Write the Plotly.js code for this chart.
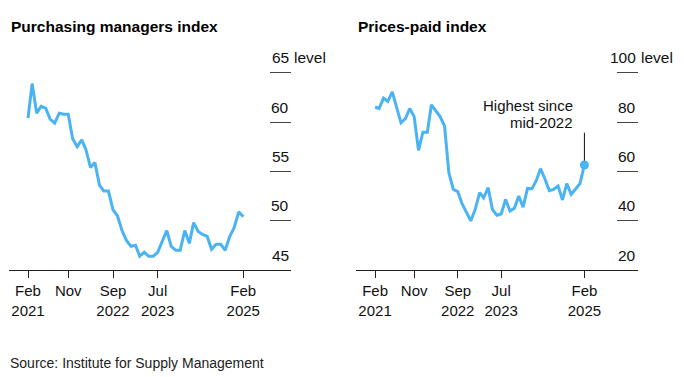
<!DOCTYPE html>
<html>
<head>
<meta charset="utf-8">
<script src="https://cdn.plot.ly/plotly-3.0.1.min.js"></script>
<style>html,body{margin:0;padding:0;background:#fff;}#chart{width:684px;height:377px;}</style>
</head>
<body>
<div id="chart"></div>
<script>
const months = ['2021-02','2021-03','2021-04','2021-05','2021-06','2021-07','2021-08','2021-09','2021-10','2021-11','2021-12',
  '2022-01','2022-02','2022-03','2022-04','2022-05','2022-06','2022-07','2022-08','2022-09','2022-10','2022-11','2022-12',
  '2023-01','2023-02','2023-03','2023-04','2023-05','2023-06','2023-07','2023-08','2023-09','2023-10','2023-11','2023-12',
  '2024-01','2024-02','2024-03','2024-04','2024-05','2024-06','2024-07','2024-08','2024-09','2024-10','2024-11','2024-12',
  '2025-01','2025-02'];
const pmi = [60.4,63.9,60.9,61.6,61.4,60.3,59.9,60.9,60.8,60.8,58.3,
  57.5,58.2,57.2,55.4,55.9,53.6,53.0,53.0,51.1,50.5,49.0,48.0,
  47.4,47.5,46.4,46.8,46.4,46.4,46.8,47.9,49.0,47.4,47.0,47.0,
  49.0,47.7,49.8,48.9,48.6,48.4,47.1,47.6,47.6,47.0,48.4,49.3,
  50.9,50.4];
const prices = [86.1,85.5,89.7,88.4,92.2,85.8,79.7,81.4,85.5,82.2,68.5,
  75.9,75.9,87.0,84.7,82.2,78.4,59.5,52.7,51.8,46.9,43.0,39.9,
  44.6,51.4,49.3,53.4,44.6,42.2,42.7,48.6,43.9,45.0,50.0,45.5,
  53.1,53.0,56.1,61.1,57.0,52.2,52.7,54.1,48.4,55.0,50.7,52.7,
  55.0,62.6];
const xTickVals = ['2021-02-01','2021-11-01','2022-09-01','2023-07-01','2025-02-01'];
const xTickText = ['Feb<br>2021','Nov','Sep<br>2022','Jul<br>2023','Feb<br>2025'];
const pmiTicks = [45,50,55,60,65];
const priceTicks = [20,40,60,80,100];
const titles = ['Purchasing managers index','Prices-paid index'];
const unitLabel = 'level';
const noteLines = ['Highest since','mid-2022'];
const source = 'Source: Institute for Supply Management';

const BLUE = '#4ab3f4';
const FONT = 'Liberation Sans, Arial, sans-serif';

const traces = [
  {x: months, y: pmi, xaxis:'x', yaxis:'y', type:'scatter', mode:'lines',
   line:{color:BLUE, width:3}, hoverinfo:'skip'},
  {x: months, y: prices, xaxis:'x2', yaxis:'y2', type:'scatter', mode:'lines',
   line:{color:BLUE, width:3}, hoverinfo:'skip'},
  {x: [months[months.length-1]], y: [prices[prices.length-1]], xaxis:'x2', yaxis:'y2',
   type:'scatter', mode:'markers', marker:{color:BLUE, size:9}, hoverinfo:'skip'}
];

function xax(domain, range, anchor){
  return {domain: domain, range: range, type:'date', anchor: anchor,
    showline:true, linecolor:'#222', linewidth:1, ticks:'outside', ticklen:7, tickcolor:'#222',
    tickvals:xTickVals, ticktext:xTickText, tickfont:{family:FONT, size:15, color:'#111'},
    showgrid:false, zeroline:false, fixedrange:true};
}
function yax(range, tv, anchor){
  return {domain:[0,1], range:range, anchor:anchor, side:'right', ticks:'inside', ticklen:21,
    tickcolor:'#444', tickwidth:1, tickvals:tv, showticklabels:false, showgrid:false,
    zeroline:false, showline:false, fixedrange:true};
}

const ann = [];
function addTickLabels(tv, xr, yr){
  tv.forEach((v,i)=>{
    ann.push({xref:xr+' domain', x:1, yref:yr, y:v, xanchor:'right', yanchor:'middle', yshift:15,
      text:String(v), showarrow:false, font:{family:FONT, size:15.5, color:'#111'}});
    if(i===tv.length-1){
      ann.push({xref:xr+' domain', x:1, yref:yr, y:v, xanchor:'left', yanchor:'middle', yshift:15, xshift:1,
        text:unitLabel, showarrow:false, font:{family:FONT, size:15.5, color:'#111'}});
    }
  });
}
addTickLabels(pmiTicks, 'x', 'y');
addTickLabels(priceTicks, 'x2', 'y2');

ann.push({xref:'x domain', x:0, yref:'paper', y:1.12, xanchor:'left', yanchor:'middle',
  text:'<b>'+titles[0]+'</b>', showarrow:false, font:{family:FONT, size:15.5, color:'#000'}});
ann.push({xref:'x2 domain', x:0, yref:'paper', y:1.12, xanchor:'left', yanchor:'middle',
  text:'<b>'+titles[1]+'</b>', showarrow:false, font:{family:FONT, size:15.5, color:'#000'}});
ann.push({xref:'paper', x:0.0117, yref:'paper', y:-0.43, xanchor:'left', yanchor:'middle',
  text:source, showarrow:false, font:{family:FONT, size:14, color:'#222'}});

const lastX = months[months.length-1];
const leaderTop = 75.7;
ann.push({xref:'x2', x:lastX, yref:'y2', y:leaderTop, xanchor:'right', yanchor:'bottom', xshift:-9, yshift:0,
  text:noteLines[1], showarrow:false, font:{family:FONT, size:15, color:'#111'}});
ann.push({xref:'x2', x:lastX, yref:'y2', y:leaderTop, xanchor:'right', yanchor:'bottom', xshift:-9, yshift:16.5,
  text:noteLines[0], showarrow:false, font:{family:FONT, size:15, color:'#111'}});

const layout = {
  width:684, height:377, margin:{l:0, r:0, t:53, b:107}, showlegend:false,
  paper_bgcolor:'#fff', plot_bgcolor:'#fff',
  xaxis: xax([9/684, 291/684], ['2020-09-25','2025-12-22'], 'y'),
  yaxis: yax([45,67], pmiTicks, 'x'),
  xaxis2: xax([356/684, 638/684], ['2020-09-21','2026-02-10'], 'y2'),
  yaxis2: yax([20,108], priceTicks, 'x2'),
  annotations: ann,
  shapes: [{type:'line', xref:'x2', yref:'y2', x0:lastX, x1:lastX, y0:prices[prices.length-1], y1:leaderTop,
    line:{color:'#111', width:1}, layer:'below'}]
};
Plotly.newPlot('chart', traces, layout, {displayModeBar:false, staticPlot:true});
</script>
</body>
</html>
